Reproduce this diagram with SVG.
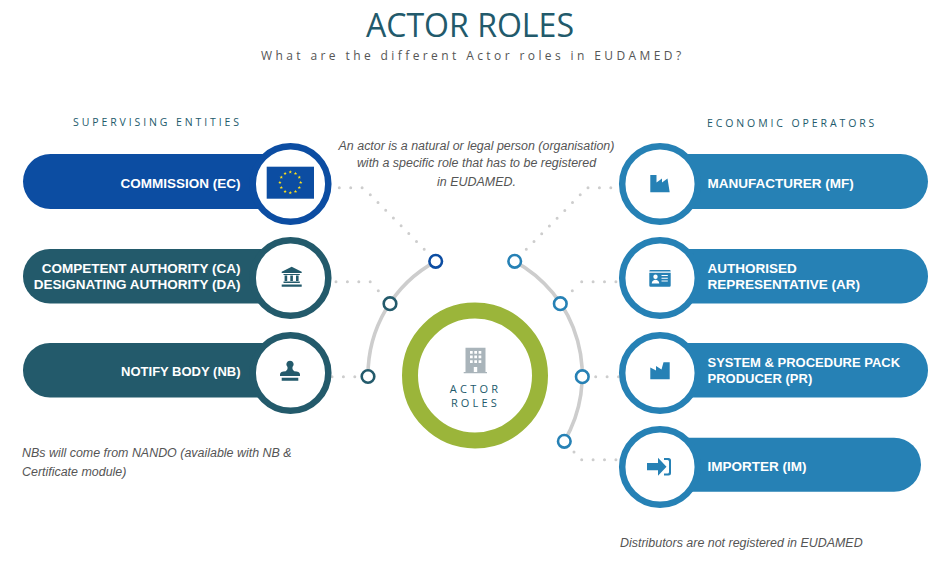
<svg xmlns="http://www.w3.org/2000/svg" xmlns:xlink="http://www.w3.org/1999/xlink" width="948" height="562" viewBox="0 0 948 562">
<style>
text{font-family:"Liberation Sans",Arial,sans-serif}
.os{font-family:"Open Sans","Noto Sans",sans-serif}
.title{font-size:33.6px;fill:#225a6b;font-weight:400}
.sub{font-size:12px;fill:#555;letter-spacing:3.4px}
.head{font-size:10.5px;fill:#225a6b;letter-spacing:2.9px}
.note{font-size:12.45px;font-style:italic;fill:#555}
.mid{text-anchor:middle}
.lbl{font-size:13.5px;font-weight:700;fill:#fff}
.sm{font-size:13px}
.end{text-anchor:end}
.ec{fill:#0c4da2}.ca{fill:#235a6b}.mf{fill:#2681b5}
.ring{fill:#fff;stroke-width:6.5}
.rec{stroke:#0c4da2}.rca{stroke:#235a6b}.rmf{stroke:#2681b5}
.arc{fill:none;stroke:#cdcdcd;stroke-width:3.6}
.dot{fill:none;stroke:#cdcdcd;stroke-width:3;stroke-linecap:round}
.dh{stroke-dasharray:0 11.4}
.dd{stroke-dasharray:0 10.95}
.pin{fill:#fff;stroke-width:2.6}
.ctr{font-size:11px;fill:#225a6b;text-anchor:middle;letter-spacing:3.2px}
</style>
<defs>
<polygon id="star" points="0,-1.7 .5,-.5 1.7,-.5 .75,.25 1.05,1.45 0,.75 -1.05,1.45 -.75,.25 -1.7,-.5 -.5,-.5" fill="#ffe11a"/>
</defs>
<text class="title os" x="366" y="36.700" textLength="208" lengthAdjust="spacingAndGlyphs">ACTOR ROLES</text>
<text class="sub os" x="261" y="60">What are the different Actor roles in EUDAMED?</text>
<text class="head os" x="73" y="126">SUPERVISING ENTITIES</text>
<text class="head os" x="707" y="127">ECONOMIC OPERATORS</text>
<g id="notes">
<text class="note mid" x="476.500" y="150">An actor is a natural or legal person (organisation)</text>
<text class="note mid" x="476.500" y="167">with a specific role that has to be registered</text>
<text class="note mid" x="476.500" y="186">in EUDAMED.</text>
<text class="note" x="22" y="457">NBs will come from NANDO (available with NB &amp;</text>
<text class="note" x="22" y="476">Certificate module)</text>
<text class="note" x="620" y="547">Distributors are not registered in EUDAMED</text>
</g>
<g id="connectors">
<path class="arc" d="M435.700 261.300A130 130 0 0 0 368 376.300"/>
<path class="arc" d="M514.700 261.300A130 130 0 0 1 564.300 441.300"/>
<path class="dot dh" d="M339.300 187.700H364.500"/>
<path class="dot dd" d="M370.300 194.700L425 250"/>
<path class="dot dh" d="M336 281.700H371"/>
<path class="dot" d="M378.300 290.700v0"/>
<path class="dot dh" d="M332 376.700H356"/>
<path class="dot dd" d="M526.300 249.300L581 194"/>
<path class="dot dh" d="M588 187.700H612"/>
<path class="dot" d="M572.300 290.700v0"/>
<path class="dot dh" d="M581.700 281.700H616"/>
<path class="dot dh" d="M595.700 376.700H620"/>
<path class="dot" d="M574 452v0"/>
<path class="dot dh" d="M581.700 459.700H616"/>
<circle cx="435.700" cy="261.300" r="6.300" class="pin rec"/>
<circle cx="390" cy="303.700" r="6.300" class="pin rca"/>
<circle cx="368" cy="376.500" r="6.300" class="pin rca"/>
<circle cx="514.700" cy="261.300" r="6.300" class="pin rmf"/>
<circle cx="560.300" cy="303.700" r="6.300" class="pin rmf"/>
<circle cx="582.300" cy="376.700" r="6.300" class="pin rmf"/>
<circle cx="564.300" cy="441.300" r="6.300" class="pin rmf"/>
</g>
<g id="center">
<circle cx="475" cy="375.500" r="65" fill="#fff" stroke="#9bb53a" stroke-width="16"/>
<path fill="#a9b4ba" d="M465.500 347.700H485.500V372H465.500ZM463.700 372H487V373.300H463.700Z"/>
<path fill="#fff" d="M470 351h2.700v2.700H470ZM474.300 351h2.700v2.700h-2.700ZM478.600 351h2.700v2.700h-2.700ZM470 355.600h2.700v2.700H470ZM474.300 355.600h2.700v2.700h-2.700ZM478.600 355.600h2.700v2.700h-2.700ZM470 360.200h2.700v2.700H470ZM474.300 360.200h2.700v2.700h-2.700ZM478.600 360.200h2.700v2.700h-2.700ZM473.800 367h3.400v5h-3.400Z"/>
<text class="ctr os" x="475.500" y="393">ACTOR</text>
<text class="ctr os" x="475.500" y="407">ROLES</text>
</g>
<g id="commission">
<rect class="ec" x="23" y="154" width="270" height="55" rx="27.500"/>
<circle class="ring rec" cx="290.500" cy="184" r="37.800"/>
<rect class="ec" x="266.700" y="166.700" width="47.300" height="32"/>
<g id="stars"><use xlink:href="#star" href="#star" x="290.300" y="172"/><use xlink:href="#star" href="#star" x="295.500" y="173.400"/><use xlink:href="#star" href="#star" x="299.300" y="177.200"/><use xlink:href="#star" href="#star" x="300.700" y="182.400"/><use xlink:href="#star" href="#star" x="299.300" y="187.600"/><use xlink:href="#star" href="#star" x="295.500" y="191.400"/><use xlink:href="#star" href="#star" x="290.300" y="192.800"/><use xlink:href="#star" href="#star" x="285.100" y="191.400"/><use xlink:href="#star" href="#star" x="281.300" y="187.600"/><use xlink:href="#star" href="#star" x="279.900" y="182.400"/><use xlink:href="#star" href="#star" x="281.300" y="177.200"/><use xlink:href="#star" href="#star" x="285.100" y="173.400"/></g>
<text class="lbl end" x="240.500" y="188">COMMISSION (EC)</text>
</g>
<g id="competent-authority">
<rect class="ca" x="23" y="249" width="270" height="54.500" rx="27"/>
<circle class="ring rca" cx="290.500" cy="278" r="37.800"/>
<path class="ca" d="M291.700 266.700L301.700 271.800V273H281.700V271.800ZM283.500 274H299.800V275H283.500ZM284.600 275.500H287.200V281H284.600ZM290.300 275.500H292.900V281H290.300ZM296 275.500H298.600V281H296ZM283.500 281.500H299.800V283H283.500ZM281.700 284.500H301.700V286.700H281.700Z"/>
<text class="lbl end" x="240.500" y="272.500">COMPETENT AUTHORITY (CA)</text>
<text class="lbl end" x="240.500" y="288.500">DESIGNATING AUTHORITY (DA)</text>
</g>
<g id="notify-body">
<rect class="ca" x="23" y="343" width="270" height="54.500" rx="27"/>
<circle class="ring rca" cx="290.500" cy="373" r="37.800"/>
<path class="ca" d="M290 360.700a3.700 3.700 0 0 1 2.500 6.400c-.3 1.800 .3 3.200 1.800 4.100c3.500 .2 5.700 1 5.700 3.300v1.500H280v-1.500c0-2.300 2.200-3.100 5.700-3.300c1.500-.9 2.100-2.300 1.800-4.100a3.700 3.700 0 0 1 2.500-6.400ZM281.700 377.800H298.300V380.700H281.700Z"/>
<text class="lbl sm end" x="240.500" y="375.500">NOTIFY BODY (NB)</text>
</g>
<g id="manufacturer">
<rect class="mf" x="650" y="154" width="278" height="55" rx="27.500"/>
<circle class="ring rmf" cx="660" cy="184" r="37.800"/>
<path class="mf" d="M650.300 175H656.500V182.500L662 178.500V182.500L667.500 178.500L669.700 192.300H650.300Z"/>
<text class="lbl" x="707.500" y="188">MANUFACTURER (MF)</text>
</g>
<g id="authorised-representative">
<rect class="mf" x="650" y="249" width="278" height="54.500" rx="27"/>
<circle class="ring rmf" cx="660" cy="278" r="37.800"/>
<path class="mf" d="M650.500 270H669.500A1.200 1.200 0 0 1 670.700 271.200V271.500H649.300V271.200A1.200 1.200 0 0 1 650.500 270ZM649.300 272.700H670.700V285.500A1.200 1.200 0 0 1 669.500 286.700H650.500A1.200 1.200 0 0 1 649.300 285.500Z"/>
<path fill="#fff" d="M655.500 274.500a2.200 2.200 0 1 1 0 4.400a2.200 2.200 0 1 1 0-4.400ZM651.700 283.500c.2-2.500 2-3.700 3.800-3.700s3.600 1.200 3.800 3.700ZM661.500 275h6.300v1.100h-6.300ZM661.500 277.700h6.300v1.100h-6.300ZM661.500 280.400h6.300v1.100h-6.300Z"/>
<text class="lbl" x="707.500" y="272.500">AUTHORISED</text>
<text class="lbl" x="707.500" y="288.500">REPRESENTATIVE (AR)</text>
</g>
<g id="pack-producer">
<rect class="mf" x="650" y="343" width="278" height="54.500" rx="27"/>
<circle class="ring rmf" cx="660" cy="373" r="37.800"/>
<path class="mf" d="M650.300 379.300V367.500L656 370.500V366L661.500 369.500L663.500 362.300H669.700V379.300Z"/>
<text class="lbl sm" x="707.500" y="366.500">SYSTEM &amp; PROCEDURE PACK</text>
<text class="lbl sm" x="707.500" y="382.500">PRODUCER (PR)</text>
</g>
<g id="importer">
<rect class="mf" x="650" y="437.700" width="271" height="54" rx="27"/>
<circle class="ring rmf" cx="660" cy="467" r="37.800"/>
<path class="mf" d="M658 457.700L666.500 466.700L658 475.700V470.300H647V463H658ZM664 458H668.500A2.500 2.500 0 0 1 671 460.500V473A2.500 2.500 0 0 1 668.500 475.500H664V473.500H667.500A1.500 1.500 0 0 0 669 472V461.500A1.500 1.500 0 0 0 667.500 460H664Z"/>
<text class="lbl" x="707.500" y="471">IMPORTER (IM)</text>
</g>
</svg>
